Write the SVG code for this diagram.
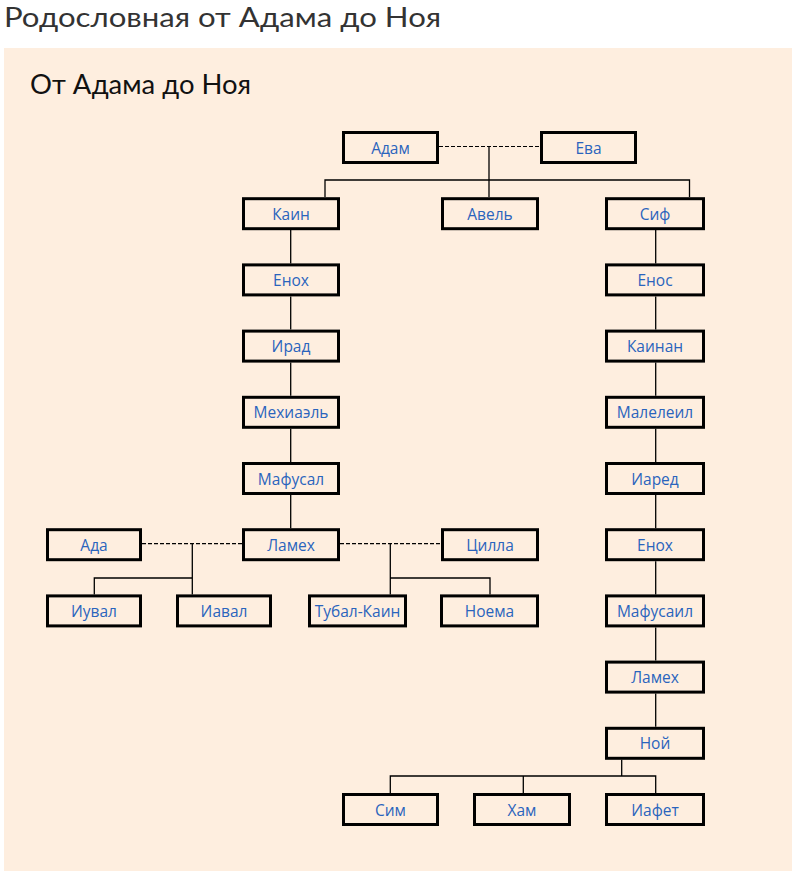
<svg xmlns="http://www.w3.org/2000/svg" width="792" height="893" viewBox="0 0 792 893">
<style>
.box rect{fill:#feeedf;stroke:#000;stroke-width:3}
.box text{font-family:"Open Sans","Noto Sans",sans-serif;font-size:15.5px;fill:#2a64bd;text-anchor:middle;dominant-baseline:central}
.ln{stroke:#000;stroke-width:1.3;fill:none}
.ds{stroke:#000;stroke-width:1.2;fill:none;stroke-dasharray:4 2}
</style>
<rect x="0" y="0" width="792" height="893" fill="#fff"/>
<text x="4" y="27" font-family="Lato,'Open Sans',sans-serif" font-size="27" fill="#333" textLength="437" lengthAdjust="spacingAndGlyphs">Родословная от Адама до Ноя</text>
<rect x="4" y="48" width="788" height="823" fill="#feeedf"/>
<text x="30" y="94" font-family="Lato,'Open Sans',sans-serif" font-size="26" fill="#111" textLength="221" lengthAdjust="spacingAndGlyphs">От Адама до Ноя</text>
<g id="connectors">
<path class="ds" d="M439 146.5H540M142 543.7H242M340 543.7H441"/>
<path class="ln" d="M489 146.5V197M325 197V180H689.5V197"/>
<path class="ln" d="M290.7 230V263.4M290.7 296.4V329.6M290.7 362.6V395.8M290.7 428.8V462M290.7 495V528.2"/>
<path class="ln" d="M655.7 230V263.4M655.7 296.4V329.6M655.7 362.6V395.8M655.7 428.8V462M655.7 495V528.2M655.7 561.2V594.4M655.7 627.4V660.6M655.7 693.6V726.8"/>
<path class="ln" d="M192.3 543.7V594.4M94.3 594.4V578H192.3"/>
<path class="ln" d="M390.3 543.7V594.4M390.3 578H490V594.4"/>
<path class="ln" d="M621.7 759.8V776M390.3 793V776H655.7V793M523.3 776V793"/>
</g>
<g id="adam" class="box"><rect x="343.5" y="132.5" width="94" height="30"/><text x="390.5" y="147.5">Адам</text></g>
<g id="eva" class="box"><rect x="541.5" y="132.5" width="94" height="30"/><text x="588.5" y="147.5">Ева</text></g>
<g id="kain" class="box"><rect x="243.5" y="198.7" width="95" height="30"/><text x="291" y="213.7">Каин</text></g>
<g id="avel" class="box"><rect x="442.5" y="198.7" width="95" height="30"/><text x="490" y="213.7">Авель</text></g>
<g id="sif" class="box"><rect x="606.5" y="198.7" width="97" height="30"/><text x="655" y="213.7">Сиф</text></g>
<g id="enoh1" class="box"><rect x="243.5" y="264.9" width="95" height="30"/><text x="291" y="279.9">Енох</text></g>
<g id="enos" class="box"><rect x="606.5" y="264.9" width="97" height="30"/><text x="655" y="279.9">Енос</text></g>
<g id="irad" class="box"><rect x="243.5" y="331.1" width="95" height="30"/><text x="291" y="346.1">Ирад</text></g>
<g id="kainan" class="box"><rect x="606.5" y="331.1" width="97" height="30"/><text x="655" y="346.1">Каинан</text></g>
<g id="mehiael" class="box"><rect x="243.5" y="397.3" width="95" height="30"/><text x="291" y="412.3">Мехиаэль</text></g>
<g id="maleleil" class="box"><rect x="606.5" y="397.3" width="97" height="30"/><text x="655" y="412.3">Малелеил</text></g>
<g id="mafusal" class="box"><rect x="243.5" y="463.5" width="95" height="30"/><text x="291" y="478.5">Мафусал</text></g>
<g id="iared" class="box"><rect x="606.5" y="463.5" width="97" height="30"/><text x="655" y="478.5">Иаред</text></g>
<g id="ada" class="box"><rect x="47.5" y="529.7" width="93" height="30"/><text x="94" y="544.7">Ада</text></g>
<g id="lameh1" class="box"><rect x="243.5" y="529.7" width="95" height="30"/><text x="291" y="544.7">Ламех</text></g>
<g id="cilla" class="box"><rect x="442.5" y="529.7" width="95" height="30"/><text x="490" y="544.7">Цилла</text></g>
<g id="enoh2" class="box"><rect x="606.5" y="529.7" width="97" height="30"/><text x="655" y="544.7">Енох</text></g>
<g id="iuval" class="box"><rect x="47.5" y="595.9" width="93" height="30"/><text x="94" y="610.9">Иувал</text></g>
<g id="iaval" class="box"><rect x="177.5" y="595.9" width="93" height="30"/><text x="224" y="610.9">Иавал</text></g>
<g id="tubal" class="box"><rect x="309.5" y="595.9" width="96" height="30"/><text x="357.5" y="610.9">Тубал-Каин</text></g>
<g id="noema" class="box"><rect x="441.5" y="595.9" width="96" height="30"/><text x="489.5" y="610.9">Ноема</text></g>
<g id="mafusail" class="box"><rect x="606.5" y="595.9" width="97" height="30"/><text x="655" y="610.9">Мафусаил</text></g>
<g id="lameh2" class="box"><rect x="606.5" y="662.1" width="97" height="30"/><text x="655" y="677.1">Ламех</text></g>
<g id="noy" class="box"><rect x="606.5" y="728.3" width="97" height="30"/><text x="655" y="743.3">Ной</text></g>
<g id="sim" class="box"><rect x="343.5" y="794.5" width="94" height="30"/><text x="390.5" y="809.5">Сим</text></g>
<g id="ham" class="box"><rect x="474.5" y="794.5" width="95" height="30"/><text x="522" y="809.5">Хам</text></g>
<g id="iafet" class="box"><rect x="606.5" y="794.5" width="97" height="30"/><text x="655" y="809.5">Иафет</text></g>
</svg>
